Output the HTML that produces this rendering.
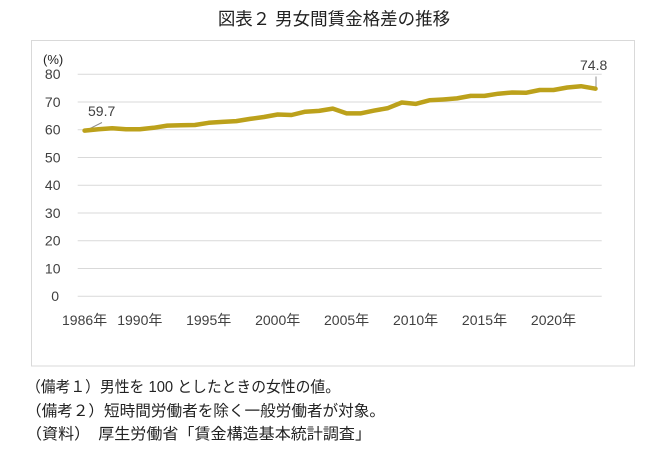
<!DOCTYPE html>
<html>
<head>
<meta charset="utf-8">
<style>
  html, body { margin:0; padding:0; background:#fff; }
  body { width:645px; height:455px; overflow:hidden; position:relative; }
  svg { position:absolute; left:0; top:0; }
</style>
</head>
<body>
<svg width="645" height="455" viewBox="0 0 645 455" xmlns="http://www.w3.org/2000/svg">
  <!-- Title -->
  <text x="334" y="25" text-anchor="middle" font-family="'Liberation Sans','Noto Sans CJK JP',sans-serif" font-size="17.5" fill="#222">図表２ 男女間賃金格差の推移</text>

  <!-- Frame -->
  <rect x="31.5" y="40.5" width="603" height="325.5" fill="none" stroke="#d9d9d9" stroke-width="1"/>

  <!-- Gridlines -->
  <g stroke="#d9d9d9" stroke-width="1">
    <line x1="77.7" y1="74.2" x2="601.7" y2="74.2"/>
    <line x1="77.7" y1="102.0" x2="601.7" y2="102.0"/>
    <line x1="77.7" y1="129.7" x2="601.7" y2="129.7"/>
    <line x1="77.7" y1="157.5" x2="601.7" y2="157.5"/>
    <line x1="77.7" y1="185.3" x2="601.7" y2="185.3"/>
    <line x1="77.7" y1="213.0" x2="601.7" y2="213.0"/>
    <line x1="77.7" y1="240.8" x2="601.7" y2="240.8"/>
    <line x1="77.7" y1="268.5" x2="601.7" y2="268.5"/>
    <line x1="77.7" y1="296.3" x2="601.7" y2="296.3"/>
  </g>

  <!-- Y labels -->
  <g font-family="'Liberation Sans',sans-serif" font-size="14" fill="#404040" text-anchor="end">
    <text x="60.5" y="79">80</text>
    <text x="60.5" y="107">70</text>
    <text x="60.5" y="134.5">60</text>
    <text x="60.5" y="162.5">50</text>
    <text x="60.5" y="190">40</text>
    <text x="60.5" y="218">30</text>
    <text x="60.5" y="245.5">20</text>
    <text x="60.5" y="273.5">10</text>
    <text x="59" y="301">0</text>
  </g>
  <text x="43" y="64" font-family="'Liberation Sans',sans-serif" font-size="13" fill="#222">(%)</text>

  <!-- X labels -->
  <g font-family="'Liberation Sans','Noto Sans CJK JP',sans-serif" font-size="14" fill="#404040" text-anchor="middle">
    <text x="84.6" y="325">1986年</text>
    <text x="139.8" y="325">1990年</text>
    <text x="208.7" y="325">1995年</text>
    <text x="277.7" y="325">2000年</text>
    <text x="346.6" y="325">2005年</text>
    <text x="415.6" y="325">2010年</text>
    <text x="484.5" y="325">2015年</text>
    <text x="553.5" y="325">2020年</text>
  </g>

  <!-- Leader lines -->
  <line x1="85" y1="131" x2="102" y2="122.5" stroke="#8c8c8c" stroke-width="1"/>
  <line x1="596" y1="76.5" x2="596" y2="89" stroke="#8c8c8c" stroke-width="1"/>

  <!-- Data line -->
  <polyline fill="none" stroke="#BCA11B" stroke-width="4.5" stroke-linejoin="round" stroke-linecap="round"
    points="84.6,130.6 98.4,129.2 112.2,128.3 126.0,129.2 139.8,129.2 153.6,127.8 167.3,125.6 181.1,125.3 194.9,125.0 208.7,122.8 222.5,121.9 236.3,121.1 250.1,118.9 263.9,117.0 277.7,114.5 291.5,115.0 305.2,111.7 319.0,110.9 332.8,108.6 346.6,113.4 360.4,113.4 374.2,110.6 388.0,108.1 401.8,102.5 415.6,103.9 429.4,100.3 443.1,99.5 456.9,98.4 470.7,95.9 484.5,95.9 498.3,93.7 512.1,92.5 525.9,92.8 539.7,90.0 553.5,90.0 567.3,87.5 581.0,86.2 595.5,88.7"/>

  <!-- Data labels -->
  <text x="88" y="116" font-family="'Liberation Sans',sans-serif" font-size="14" fill="#404040">59.7</text>
  <text x="580" y="70" font-family="'Liberation Sans',sans-serif" font-size="14" fill="#404040">74.8</text>

  <!-- Notes -->
  <g font-family="'Liberation Sans','Noto Sans CJK JP',sans-serif" font-size="15.3" fill="#222">
    <text x="26" y="392" textLength="314" lengthAdjust="spacingAndGlyphs">（備考１）男性を 100 としたときの女性の値。</text>
    <text x="26" y="416" textLength="359" lengthAdjust="spacingAndGlyphs">（備考２）短時間労働者を除く一般労働者が対象。</text>
    <text x="26" y="439" textLength="345" lengthAdjust="spacingAndGlyphs">（資料）　厚生労働省「賃金構造基本統計調査」</text>
  </g>
</svg>
</body>
</html>
